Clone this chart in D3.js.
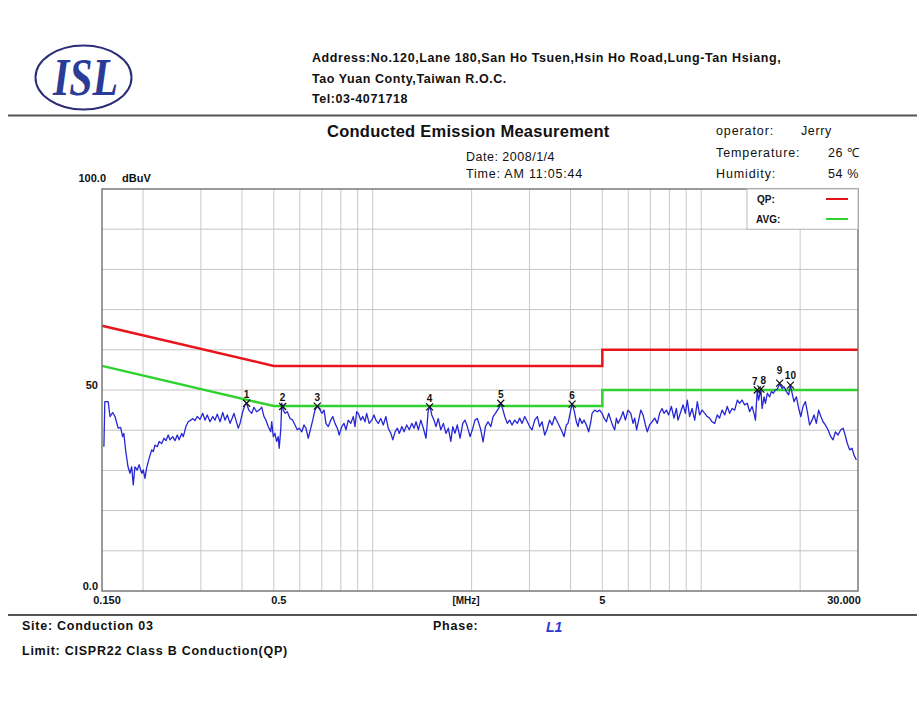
<!DOCTYPE html>
<html>
<head>
<meta charset="utf-8">
<script src="https://cdn.jsdelivr.net/npm/d3@7"></script>
<style>
body{margin:0;background:#fff;}
text{font-family:"Liberation Sans",Arial,sans-serif;fill:#111;}
</style>
</head>
<body>
<div id="chart"></div>
<script>
const w = 917;
const h = 705;

// plot frame (px)
const pLeft = 102, pTop = 189, pRight = 858, pBottom = 591;

// limit lines CISPR22 class B
const qpMHz = [0.15, 0.5, 5, 5, 30];
const qpDbuV = [66, 56, 56, 60, 60];
const avgMHz = [0.15, 0.5, 5, 5, 30];
const avgDbuV = [56, 46, 46, 50, 50];

// grid + tick labels
const gridMHz = [0.2,0.3,0.4,0.5,0.6,0.7,0.8,0.9,1,2,3,4,5,6,7,8,9,10,20];
const gridDbuV = [10,20,30,40,50,60,70,80,90];
const xTickMHz = [0.15, 0.5, 5, 30];
const xTickText = ["0.150", "0.5", "5", "30.000"];
const yTickDbuV = [100, 50, 0];
const yTickText = ["100.0", "50", "0.0"];

const traceMHz = [0.152,0.153,0.1566,0.1587,0.1617,0.1643,0.168,0.1709,0.1733,0.1748,0.1772,0.18,0.1825,0.1847,0.1867,0.1889,0.192,0.1946,0.1981,0.2003,
0.2027,0.205,0.2087,0.2125,0.2149,0.2174,0.2209,0.2239,0.228,0.2316,0.2348,0.2386,0.2416,0.2462,0.2501,0.2542,0.2575,0.2623,0.2652,0.2701,
0.2745,0.2794,0.2833,0.2877,0.2925,0.2982,0.3039,0.3086,0.3137,0.3198,0.3259,0.331,0.3364,0.3431,0.3496,0.3551,0.3609,0.368,0.3732,0.3783,
0.3835,0.3897,0.3947,0.4022,0.4085,0.4133,0.4196,0.4284,0.4352,0.4432,0.4512,0.4595,0.4668,0.4732,0.4809,0.4895,0.4929,0.4983,0.5041,0.51,
0.5158,0.5193,0.525,0.5287,0.5344,0.5407,0.5496,0.5604,0.571,0.58,0.5895,0.5974,0.6083,0.6179,0.6263,0.6366,0.6479,0.657,0.6673,0.6782,
0.6873,0.6999,0.711,0.7206,0.7324,0.7455,0.7559,0.7678,0.7804,0.7908,0.8052,0.818,0.8291,0.8426,0.8577,0.873,0.8833,0.8935,0.9038,0.92,
0.9328,0.9474,0.9584,0.9758,0.9937,1.009,1.023,1.04,1.058,1.077,1.097,1.115,1.136,1.151,1.17,1.189,1.205,1.227,1.246,1.269,
1.292,1.316,1.336,1.355,1.377,1.401,1.426,1.453,1.476,1.495,1.513,1.537,1.558,1.583,1.612,1.641,1.671,1.699,1.729,1.753,
1.78,1.809,1.845,1.88,1.91,1.941,1.979,2.017,2.048,2.082,2.133,2.168,2.203,2.244,2.288,2.325,2.363,2.395,2.418,2.454,
2.493,2.523,2.569,2.61,2.656,2.705,2.755,2.8,2.849,2.903,2.956,3.004,3.056,3.113,3.171,3.222,3.277,3.339,3.39,3.455,
3.515,3.581,3.647,3.706,3.771,3.823,3.886,3.931,3.989,4.045,4.101,4.169,4.216,4.264,4.338,4.398,4.471,4.543,4.612,4.653,
4.74,4.828,4.906,4.991,5.06,5.143,5.227,5.305,5.39,5.453,5.517,5.58,5.69,5.781,5.877,5.985,6.103,6.201,6.273,6.358,
6.45,6.547,6.651,6.762,6.853,6.963,7.085,7.218,7.35,7.469,7.599,7.704,7.831,7.959,8.11,8.263,8.4,8.496,8.665,8.803,
8.95,9.07,9.217,9.377,9.553,9.729,9.886,10.06,10.25,10.43,10.6,10.79,10.99,11.19,11.37,11.57,11.79,12.0,12.2,12.41,
12.64,12.88,13.08,13.31,13.56,13.81,14.04,14.28,14.47,14.62,14.81,14.95,15.19,15.32,15.53,15.68,15.9,16.15,16.35,16.57,
16.81,17.04,17.32,17.62,17.87,18.16,18.46,18.68,18.9,19.16,19.48,19.8,20.09,20.41,20.75,21.03,21.37,21.74,22.04,22.4,
22.77,23.12,23.48,23.87,24.31,24.79,25.19,25.61,26.08,26.59,27.02,27.33,27.84,28.29,28.78,29.17,29.66];
const traceDbuV = [35.9,47.1,47.1,43.4,44.4,43.4,40.5,40.7,38.4,39.2,34.7,30.9,29.3,30.9,26.4,30.9,30.1,31.4,29.3,30.1,
28.0,30.5,33.0,35.1,34.7,36.3,35.9,37.2,36.7,38.0,37.4,38.8,37.6,38.4,37.4,38.8,37.6,39.2,38.4,40.9,
42.1,42.5,42.9,42.4,43.4,42.7,44.2,42.5,43.8,42.1,43.4,42.5,44.0,42.1,44.4,42.5,43.8,41.7,42.9,44.2,
42.5,40.5,41.7,44.6,46.3,46.7,45.0,44.2,45.7,44.6,45.0,45.7,43.4,42.5,40.9,39.6,42.1,38.4,39.2,37.2,
38.4,35.5,40.1,46.7,45.0,44.2,44.6,42.9,42.5,41.3,40.1,40.5,39.6,41.3,40.5,38.0,40.5,42.5,45.0,46.0,
45.4,44.2,45.0,41.7,40.9,42.5,43.4,41.7,40.5,38.8,40.9,41.7,40.1,42.5,41.7,43.4,40.9,44.6,44.2,42.5,
43.4,42.1,44.2,41.7,42.5,43.8,42.5,41.7,42.9,41.3,43.4,40.5,39.2,37.6,39.6,40.5,39.2,40.9,39.6,41.3,
40.1,41.7,40.5,42.1,40.1,42.5,40.5,38.0,45.0,45.9,43.8,42.5,40.9,42.9,40.1,41.7,39.2,40.5,37.2,40.9,
39.2,41.3,38.0,41.7,42.5,40.9,38.4,40.5,42.5,42.9,40.1,37.1,40.9,42.1,40.9,43.4,44.2,45.0,45.4,46.7,
45.0,43.4,41.7,42.5,41.3,42.5,41.7,43.0,41.7,43.4,42.1,40.9,40.1,42.5,43.4,40.9,42.1,38.8,40.1,42.5,
41.3,43.4,42.1,40.9,39.6,38.4,41.3,41.7,44.2,46.7,45.0,42.1,40.9,43.0,41.7,42.5,41.3,39.6,42.1,44.2,
45.0,44.6,45.0,44.2,43.0,42.1,44.2,42.5,40.9,40.1,43.0,41.7,43.0,44.6,42.5,45.0,44.2,41.7,43.0,40.1,
42.5,45.0,43.8,41.3,39.6,41.3,42.1,43.0,41.7,44.2,45.4,44.2,45.0,43.8,45.9,43.0,45.4,42.5,44.6,46.3,
44.2,47.5,43.4,45.4,42.5,47.1,43.8,45.0,44.2,43.4,43.0,42.1,41.7,43.8,43.0,45.0,43.8,45.9,44.2,45.4,
45.0,47.5,46.7,47.5,46.3,46.7,44.6,45.9,44.2,42.5,50.0,47.5,50.2,45.4,48.3,46.7,49.2,48.3,49.6,49.2,
50.0,50.2,51.5,50.4,50.8,49.6,48.8,51.2,49.2,47.1,48.3,45.4,43.4,45.9,47.1,44.6,41.3,42.5,43.8,41.7,
45.0,43.4,42.1,41.3,40.1,38.4,37.6,39.6,38.8,40.1,40.5,39.2,36.7,35.1,35.5,33.8,32.6];

// peak markers
const markerNo = ["1","2","3","4","5","6","7","8","9","10"];
const markerMHz = [0.4133, 0.532, 0.678, 1.49, 2.454, 4.045, 14.81, 15.19, 17.32, 18.68];
const markerDbuV = [46.7, 45.9, 46.0, 45.8, 46.7, 46.5, 50.0, 50.2, 51.7, 51.2];

const qpColor = "#e8141c";
const avgColor = "#2fd22f";
const traceColor = "#2626d6";

const svg = d3.select("#chart").append("svg")
  .attr("width", w).attr("height", h);

svg.append("rect").attr("width", w).attr("height", h).attr("fill", "#fff");

const x = d3.scaleLog().domain([0.15, 30]).range([pLeft, pRight]);
const y = d3.scaleLinear().domain([0, 100]).range([pBottom, pTop]);

// plain label helper, the scanned print is a bit wide so add some spacing
function label(px, py, str, size, bold, ls) {
  return svg.append("text").attr("x", px).attr("y", py)
    .style("font-size", size + "px")
    .style("font-weight", bold ? "bold" : "normal")
    .style("letter-spacing", (ls || 0) + "px")
    .text(str);
}

// ---- header ----
const logo = svg.append("g");
logo.append("ellipse").attr("cx", 83.5).attr("cy", 77.5).attr("rx", 48).attr("ry", 32)
  .attr("fill", "none").attr("stroke", "#2c2c78").attr("stroke-width", 2);
logo.append("text").attr("x", 53).attr("y", 95)
  .attr("textLength", 65).attr("lengthAdjust", "spacingAndGlyphs")
  .style("font-family", "'Liberation Serif','Times New Roman',serif")
  .style("font-weight", "bold").style("font-style", "italic")
  .style("font-size", "52px").style("fill", "#2b3c96")
  .text("ISL");

const addr = [
  "Address:No.120,Lane 180,San Ho Tsuen,Hsin Ho Road,Lung-Tan Hsiang,",
  "Tao Yuan Conty,Taiwan R.O.C.",
  "Tel:03-4071718"
];
addr.forEach((d, i) => label(312, 62 + i * 20.5, d, 12.5, true, 0.57));

svg.append("line").attr("x1", 8).attr("x2", w).attr("y1", 115.5).attr("y2", 115.5)
  .attr("stroke", "#555").attr("stroke-width", 2);

label(327, 137, "Conducted Emission Measurement", 16.5, true, 0.25);
label(466, 161, "Date: 2008/1/4", 12.5, false, 0.5);
label(466, 178, "Time: AM 11:05:44", 12.5, false, 0.8);

const infoKey = ["operator:", "Temperature:", "Humidity:"];
const infoVal = ["Jerry", "26 \u2103", "54 %"];
const infoValX = [801, 828, 828];
infoKey.forEach((k, i) => {
  label(716, 135 + i * 21.5, k, 12.5, false, 0.9);
  label(infoValX[i], 135 + i * 21.5, infoVal[i], 12.5, false, 0.6);
});

// ---- plot ----
const plot = svg.append("g");

plot.selectAll(".vgrid").data(gridMHz).enter().append("line")
  .attr("class", "vgrid")
  .attr("x1", d => x(d)).attr("x2", d => x(d))
  .attr("y1", pTop).attr("y2", pBottom)
  .attr("stroke", "#c9c9c9").attr("stroke-width", 1);

plot.selectAll(".hgrid").data(gridDbuV).enter().append("line")
  .attr("class", "hgrid")
  .attr("x1", pLeft).attr("x2", pRight)
  .attr("y1", d => y(d)).attr("y2", d => y(d))
  .attr("stroke", "#c4c4c4").attr("stroke-width", 1);

// legend box sits over the top-right grid cell
const leg = svg.append("g");
leg.append("rect").attr("x", 747).attr("y", pTop).attr("width", pRight - 747).attr("height", y(90) - pTop)
  .attr("fill", "#fff").attr("stroke", "#bbb");
leg.append("text").attr("x", 757).attr("y", 203).style("font-size", "10px").style("font-weight", "bold").text("QP:");
leg.append("text").attr("x", 756).attr("y", 223).style("font-size", "10px").style("font-weight", "bold").text("AVG:");
leg.append("line").attr("x1", 826).attr("x2", 848).attr("y1", 199).attr("y2", 199)
  .attr("stroke", qpColor).attr("stroke-width", 2);
leg.append("line").attr("x1", 826).attr("x2", 848).attr("y1", 219).attr("y2", 219)
  .attr("stroke", avgColor).attr("stroke-width", 2);

svg.append("clipPath").attr("id", "clip").append("rect")
  .attr("x", pLeft).attr("y", pTop).attr("width", pRight - pLeft).attr("height", pBottom - pTop);

const line = d3.line().x(d => x(d[0])).y(d => y(d[1]));

plot.append("path").datum(d3.zip(qpMHz, qpDbuV))
  .attr("d", line).attr("fill", "none").attr("stroke", qpColor).attr("stroke-width", 2.5);
plot.append("path").datum(d3.zip(avgMHz, avgDbuV))
  .attr("d", line).attr("fill", "none").attr("stroke", avgColor).attr("stroke-width", 2.5);

plot.append("path").datum(d3.zip(traceMHz, traceDbuV))
  .attr("clip-path", "url(#clip)")
  .attr("d", line).attr("fill", "none").attr("stroke", traceColor)
  .attr("stroke-width", 1.3).attr("stroke-linejoin", "round");

// markers; 7/8 sit close together so nudge their numbers apart
const lblDx = {"7": -2.5, "8": 2.5};
const lblDy = {"9": -9, "10": -6};
const mk = plot.selectAll(".mk").data(d3.range(markerNo.length)).enter().append("g")
  .attr("class", "mk")
  .attr("transform", i => `translate(${x(markerMHz[i])},${y(markerDbuV[i])})`);
mk.append("path").attr("d", "M-3.5,-3.5L3.5,3.5M-3.5,3.5L3.5,-3.5")
  .attr("stroke", "#111").attr("stroke-width", 1.2).attr("fill", "none");
mk.append("text")
  .attr("x", i => lblDx[markerNo[i]] || 0)
  .attr("y", i => lblDy[markerNo[i]] || -5)
  .attr("text-anchor", "middle")
  .style("font-size", "10px").style("font-weight", "bold")
  .text(i => markerNo[i]);

// frame
plot.append("rect").attr("x", pLeft).attr("y", pTop)
  .attr("width", pRight - pLeft).attr("height", pBottom - pTop)
  .attr("fill", "none").attr("stroke", "#7a7a7a").attr("stroke-width", 1.5);

// axis labels
const yLabRight = [106, 98, 98];
svg.selectAll(".ylab").data(yTickDbuV).enter().append("text")
  .attr("class", "ylab")
  .attr("x", (d, i) => yLabRight[i]).attr("y", d => y(d) - (d === 100 ? 7 : 1))
  .attr("text-anchor", "end")
  .style("font-size", "11px").style("font-weight", "bold")
  .text((d, i) => yTickText[i]);
svg.append("text").attr("x", 122).attr("y", 182)
  .style("font-size", "11px").style("font-weight", "bold").text("dBuV");

svg.selectAll(".xlab").data(xTickMHz).enter().append("text")
  .attr("class", "xlab")
  .attr("x", (d, i) => x(d) + [5, 5, 0, -14][i]).attr("y", 604)
  .attr("text-anchor", "middle")
  .style("font-size", "11px").style("font-weight", "bold")
  .text((d, i) => xTickText[i]);
svg.append("text").attr("x", 466).attr("y", 604).attr("text-anchor", "middle")
  .style("font-size", "10px").style("font-weight", "bold").text("[MHz]");

// ---- footer ----
svg.append("line").attr("x1", 8).attr("x2", w).attr("y1", 615).attr("y2", 615)
  .attr("stroke", "#555").attr("stroke-width", 2);
label(22, 630, "Site:  Conduction 03", 12.5, true, 0.75);
label(433, 630, "Phase:", 12.5, true, 0.75);
svg.append("text").attr("x", 546).attr("y", 632)
  .style("font-size", "14px").style("font-weight", "bold").style("font-style", "italic")
  .style("fill", "#2a3bd4").text("L1");
label(22, 655, "Limit:  CISPR22 Class B Conduction(QP)", 12.5, true, 0.75);
</script>
</body>
</html>
